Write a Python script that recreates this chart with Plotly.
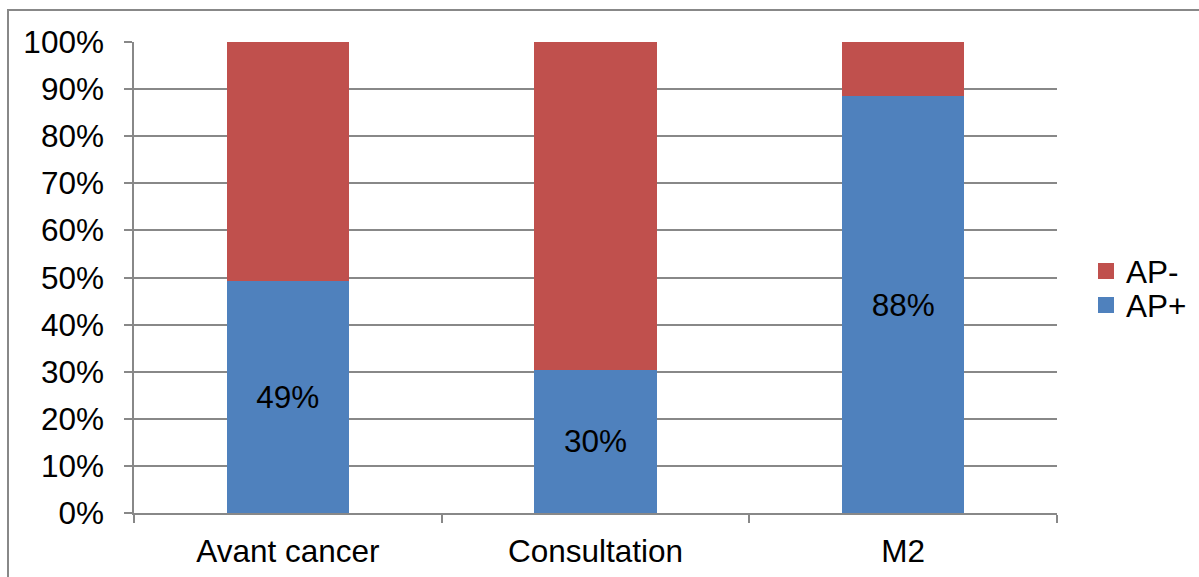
import plotly.graph_objects as go

categories = ["Avant cancer", "Consultation", "M2"]
ap_plus = [0.493, 0.304, 0.885]
ap_minus = [0.507, 0.696, 0.115]
ap_plus_labels = ["49%", "30%", "88%"]
y_ticks = [0, 0.1, 0.2, 0.3, 0.4, 0.5, 0.6, 0.7, 0.8, 0.9, 1.0]

FONT = "Liberation Sans, Arial, sans-serif"
FS = 31.5
GRID = "#888888"
BLUE = "#4F81BD"
RED = "#C0504D"

fig = go.Figure()
fig.add_trace(go.Bar(
    x=categories, y=ap_plus, name="AP+", showlegend=False,
    marker=dict(color=BLUE, line=dict(width=0)),
    text=ap_plus_labels, textposition="inside", insidetextanchor="middle",
    textfont=dict(color="black", size=FS, family=FONT),
    textangle=0,
))
fig.add_trace(go.Bar(
    x=categories, y=ap_minus, name="AP-", showlegend=False,
    marker=dict(color=RED, line=dict(width=0)),
))
# legend entries (square markers)
fig.add_trace(go.Scatter(
    x=[None], y=[None], mode="markers", name="AP-", legend="legend",
    marker=dict(symbol="square", size=17, color=RED),
))
fig.add_trace(go.Scatter(
    x=[None], y=[None], mode="markers", name="AP+", legend="legend2",
    marker=dict(symbol="square", size=17, color=BLUE),
))

L, R, T, B = 134, 142, 42, 64
W, H = 1199, 577
pw, ph = W - L - R, H - T - B

leg_common = dict(
    x=(1086 - L) / pw, xanchor="left", yanchor="middle",
    font=dict(size=FS, family=FONT), itemwidth=30,
    bgcolor="rgba(0,0,0,0)",
)

fig.update_layout(
    width=W, height=H,
    margin=dict(l=L, r=R, t=T, b=B, autoexpand=False),
    barmode="stack", bargap=0.603,
    plot_bgcolor="white", paper_bgcolor="white",
    font=dict(family=FONT, size=FS, color="black"),
    showlegend=True,
    legend=dict(y=(H - B - 271) / ph, **leg_common),
    legend2=dict(y=(H - B - 305) / ph, **leg_common),
    xaxis=dict(
        showline=True, linecolor=GRID, linewidth=1.5,
        ticks="outside", ticklen=8, tickcolor=GRID, tickwidth=1.5,
        tickson="boundaries", showgrid=False, automargin=False,
        ticklabelstandoff=9,
        tickfont=dict(size=FS, family=FONT),
    ),
    yaxis=dict(
        range=[0, 1], tickvals=y_ticks, tickformat=".0%",
        showline=True, linecolor=GRID, linewidth=1.5,
        ticks="outside", ticklen=8, tickcolor=GRID, tickwidth=1.5,
        showgrid=True, gridcolor=GRID, gridwidth=1.5,
        zeroline=False, automargin=False,
        ticklabelstandoff=14,
        tickfont=dict(size=FS, family=FONT),
    ),
    shapes=[dict(
        type="rect", xref="paper", yref="paper",
        x0=(8 - L) / pw, x1=(1210 - L) / pw,
        y0=(H - B - 590) / ph, y1=(H - B - 10) / ph,
        line=dict(color=GRID, width=2), fillcolor="rgba(0,0,0,0)",
        layer="below",
    )],
)

fig.write_html("out.html")
